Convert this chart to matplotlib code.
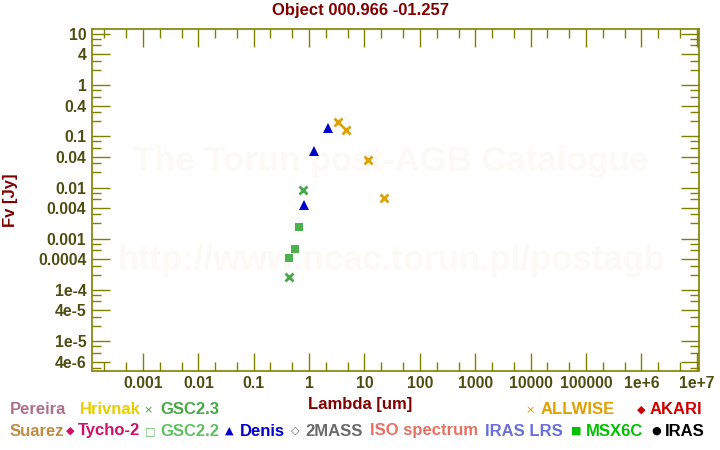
import matplotlib
matplotlib.use("Agg")
import matplotlib.pyplot as plt
from matplotlib.ticker import FixedLocator, NullFormatter
import numpy as np

# photometry (lambda in um, flux in Jy)
allwise_lam = [3.35, 4.6, 11.6, 22.1]
allwise_flux = [0.19, 0.133, 0.0345, 0.0063]
denis_lam = [2.15, 1.25, 0.82]
denis_flux = [0.143, 0.053, 0.0045]
gsc23_lam = [0.79, 0.44]
gsc23_flux = [0.009, 1.8e-4]
gsc22_lam = [0.645, 0.545, 0.44]
gsc22_flux = [0.0017, 6.4e-4, 4.2e-4]

xticks = [1e-3, 1e-2, 1e-1, 1, 10, 100, 1e3, 1e4, 1e5, 1e6, 1e7]
xticklabels = ["0.001", "0.01", "0.1", "1", "10", "100", "1000", "10000",
               "100000", "1e+6", "1e+7"]
yticks = [10, 4, 1, 0.4, 0.1, 0.04, 0.01, 0.004, 0.001, 0.0004, 1e-4, 4e-5,
          1e-5, 4e-6]
yticklabels = ["10", "4", "1", "0.4", "0.1", "0.04", "0.01", "0.004", "0.001",
               "0.0004", "1e-4", "4e-5", "1e-5", "4e-6"]

# legend rows: (symbol, label, colour, symbol x px, text x px)
legend_row1 = [("", "Pereira", "#b0708a", 0, 10),
               ("", "Hrivnak", "#e6cf00", 0, 80),
               ("\u00d7", "GSC2.3", "#48a848", 148, 160),
               ("\u00d7", "ALLWISE", "#e0a000", 530, 541),
               ("\u25c6", "AKARI", "#d00000", 641, 650)]
legend_row2 = [("", "Suarez", "#c08c40", 0, 10),
               ("\u25c6", "Tycho-2", "#d0106a", 70, 78),
               ("\u25a1", "GSC2.2", "#60c060", 150, 160),
               ("\u25b2", "Denis", "#0000c8", 229, 240),
               ("\u25c7", "2MASS", "#6a6a6a", 295, 305),
               ("", "ISO spectrum", "#e87062", 0, 370),
               ("", "IRAS LRS", "#6a70d8", 0, 485),
               ("\u25a0", "MSX6C", "#00c000", 576, 586),
               ("\u25cf", "IRAS", "#000000", 656, 665)]

olive = "#808000"
tickc = "#4d4d12"
darkred = "#800000"
font = ["Liberation Sans", "DejaVu Sans"]
plt.rcParams['font.family'] = font

fig = plt.figure(figsize=(7.2, 4.5), dpi=100)
ax = fig.add_axes([92 / 720, 1 - 370.5 / 450, 607 / 720, 341.2 / 450])

ax.plot(allwise_lam, allwise_flux, 'x', color="#e0a000", ms=6, mew=2)
ax.plot(denis_lam, denis_flux, '^', color="#0000c8", ms=7, mew=0)
ax.plot(gsc23_lam, gsc23_flux, 'x', color="#48a848", ms=6, mew=2)
ax.plot(gsc22_lam, gsc22_flux, 's', color="#4cb34c", ms=5.5, mew=0)

ax.set_xscale('log')
ax.set_yscale('log')
ax.set_xlim(1.2e-4, 1.1e7)
ax.set_ylim(2.67e-6, 12.4)

ax.xaxis.set_major_locator(FixedLocator(xticks))
ax.set_xticklabels(xticklabels)
xminor = [m * 10.0 ** e for e in range(-4, 8) for m in (2, 5)]
ax.xaxis.set_minor_locator(FixedLocator(xminor))
ax.xaxis.set_minor_formatter(NullFormatter())

ax.yaxis.set_major_locator(FixedLocator(yticks))
ax.set_yticklabels(yticklabels)
yminor = [m * 10.0 ** e for e in range(-6, 2) for m in (2, 3, 6, 8)]
ax.yaxis.set_minor_locator(FixedLocator(yminor))
ax.yaxis.set_minor_formatter(NullFormatter())

ax.tick_params(which='both', direction='in', top=True, right=True,
               color=olive, width=1.0, labelcolor=tickc, labelsize=11.3)
ax.tick_params(which='major', length=13, pad=4)
ax.tick_params(which='minor', length=6.5)
for lab in ax.get_xticklabels() + ax.get_yticklabels():
    lab.set_fontweight('bold')
for s in ax.spines.values():
    s.set_color(olive)
    s.set_linewidth(1.2)

# watermark
ax.text(0.492, 0.614, "The Torun post-AGB Catalogue", transform=ax.transAxes,
        ha='center', va='center', fontsize=25, fontweight='bold',
        color="#fcfaf6", zorder=0)
ax.text(0.494, 0.323, "http://www.ncac.torun.pl/postagb", transform=ax.transAxes,
        ha='center', va='center', fontsize=25, fontweight='bold',
        color="#fcfaf6", zorder=0)

fig.text(360 / 720, 1 - 11 / 450, "Object 000.966 -01.257", ha='center',
         va='center', fontsize=12, fontweight='bold', color=darkred)
fig.text(10 / 720, 1 - 200 / 450, "Fv [Jy]", rotation=90, ha='center',
         va='center', fontsize=12, fontweight='bold', color=darkred)
fig.text(360 / 720, 1 - 404 / 450, "Lambda [um]", ha='center', va='center',
         fontsize=12, fontweight='bold', color=darkred)

for row, ypx in ((legend_row1, 410), (legend_row2, 431)):
    for sym, lab, col, sx, tx in row:
        if sym:
            fig.text(sx / 720, 1 - ypx / 450, sym, ha='center', va='center',
                     fontsize=8, color=col, family=["DejaVu Sans"])
        fig.text(tx / 720, 1 - ypx / 450, lab, ha='left', va='center',
                 fontsize=12, fontweight='bold', color=col)

fig.savefig("out.png", dpi=100)
